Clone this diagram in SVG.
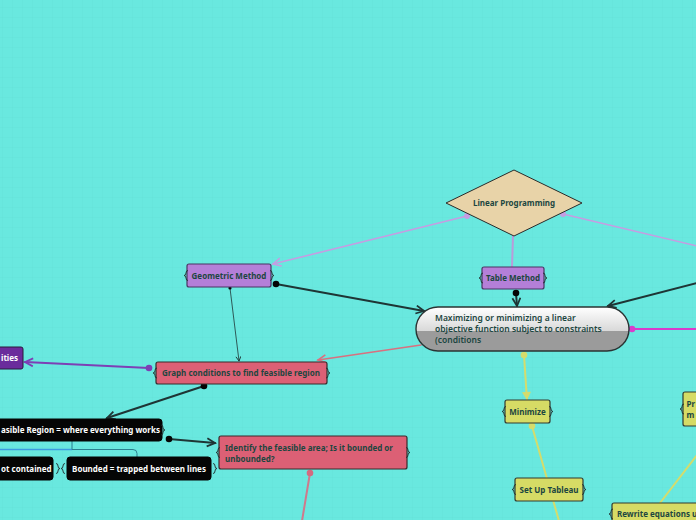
<svg xmlns="http://www.w3.org/2000/svg" xmlns:xlink="http://www.w3.org/1999/xlink" width="696" height="520" viewBox="0 0 696 520">
<style>
.t{font-family:"Noto Sans","Open Sans","DejaVu Sans",sans-serif;font-size:8px;font-weight:700;fill:#1c4640}
.tw{font-family:"Noto Sans","Open Sans","DejaVu Sans",sans-serif;font-size:8px;font-weight:700;fill:#ffffff}
.tc{font-family:"Noto Sans","Open Sans","DejaVu Sans",sans-serif;font-size:8.5px;font-weight:600;fill:#1c4640}
.purple{fill:#b47fd8;stroke:#4b3563;stroke-width:1.2}
.pink{fill:#dc6075;stroke:#3a2a2c;stroke-width:1.2}
.yellow{fill:#d6db65;stroke:#333a30;stroke-width:1.2}
.black{fill:#050505;stroke:#050505;stroke-width:1}
.brace{fill:none;stroke:#1e2a2a;stroke-width:0.9}
.c{fill:none;stroke-linecap:round}
</style>
<defs>
<pattern id="grid" width="10" height="10" patternUnits="userSpaceOnUse" x="2" y="7">
<path d="M0,0 H10 M0,0 V10" fill="none" stroke="#60dcd4" stroke-width="0.6"/>
</pattern>
<linearGradient id="cg" x1="0" y1="0" x2="0" y2="1">
<stop offset="0" stop-color="#ffffff"/>
<stop offset="0.54" stop-color="#d9d9d9"/>
<stop offset="0.54" stop-color="#9b9b9b"/>
<stop offset="1" stop-color="#9b9b9b"/>
</linearGradient>
<path id="br" d="M1,-5 Q-1,-5 -1,-2.5 Q-1,0 -3,0 Q-1,0 -1,2.5 Q-1,5 1,5"/>
<marker id="aDark" markerUnits="userSpaceOnUse" markerWidth="12" markerHeight="12" refX="9" refY="5" orient="auto"><path d="M1,1 L9,5 L1,9" fill="none" stroke="#1e3535" stroke-width="1.8"/></marker>
<marker id="aThin" markerUnits="userSpaceOnUse" markerWidth="8" markerHeight="8" refX="5" refY="3" orient="auto"><path d="M0.5,0.5 L5,3 L0.5,5.5" fill="none" stroke="#1e3535" stroke-width="0.9"/></marker>
<marker id="aLav" markerUnits="userSpaceOnUse" markerWidth="12" markerHeight="12" refX="9" refY="5" orient="auto"><path d="M1,1 L9,5 L1,9" fill="none" stroke="#c59de2" stroke-width="1.6"/></marker>
<marker id="aPink" markerUnits="userSpaceOnUse" markerWidth="12" markerHeight="12" refX="9" refY="5" orient="auto"><path d="M1,1 L9,5 L1,9" fill="none" stroke="#d9707f" stroke-width="1.6"/></marker>
<marker id="aPur" markerUnits="userSpaceOnUse" markerWidth="12" markerHeight="12" refX="9" refY="5" orient="auto"><path d="M1,1 L9,5 L1,9" fill="none" stroke="#7d3fb5" stroke-width="1.8"/></marker>
<marker id="aYel" markerUnits="userSpaceOnUse" markerWidth="12" markerHeight="12" refX="9" refY="5" orient="auto"><path d="M1,0.5 L9,5 L1,9.5 Z" fill="#d4dc6c"/></marker>
<marker id="dDark" markerUnits="userSpaceOnUse" markerWidth="8" markerHeight="8" refX="4" refY="4"><circle cx="4" cy="4" r="3.3" fill="#050505"/></marker>
<marker id="dSmall" markerUnits="userSpaceOnUse" markerWidth="4" markerHeight="4" refX="2" refY="2"><circle cx="2" cy="2" r="1.6" fill="#050505"/></marker>
<marker id="dLav" markerUnits="userSpaceOnUse" markerWidth="8" markerHeight="8" refX="4" refY="4"><circle cx="4" cy="4" r="3" fill="#c59de2"/></marker>
<marker id="dMag" markerUnits="userSpaceOnUse" markerWidth="8" markerHeight="8" refX="4" refY="4"><circle cx="4" cy="4" r="3.3" fill="#d83ccc"/></marker>
<marker id="dYel" markerUnits="userSpaceOnUse" markerWidth="8" markerHeight="8" refX="4" refY="4"><circle cx="4" cy="4" r="3.3" fill="#d4dc6c"/></marker>
<marker id="dPur" markerUnits="userSpaceOnUse" markerWidth="8" markerHeight="8" refX="4" refY="4"><circle cx="4" cy="4" r="3.3" fill="#7d3fb5"/></marker>
<marker id="dPink" markerUnits="userSpaceOnUse" markerWidth="8" markerHeight="8" refX="4" refY="4"><circle cx="4" cy="4" r="3.3" fill="#d46a80"/></marker>
</defs>
<rect width="696" height="520" fill="#69e8df"/>
<rect width="696" height="520" fill="url(#grid)"/>

<g id="connectors">
<path class="c" d="M513,236 L512,267" stroke="#b99bd9" stroke-width="2"/>
<path class="c" d="M467,216 L273,264" stroke="#c59de2" stroke-width="1.6" marker-start="url(#dLav)" marker-end="url(#aLav)"/>
<path class="c" d="M563,214 L697,246" stroke="#c59de2" stroke-width="1.6" marker-start="url(#dLav)"/>
<path class="c" d="M516,293 L517,306" stroke="#1e3535" stroke-width="2" marker-start="url(#dDark)" marker-end="url(#aDark)"/>
<path class="c" d="M276,284 L424,311" stroke="#1e3535" stroke-width="2" marker-start="url(#dDark)" marker-end="url(#aDark)"/>
<path class="c" d="M230,288 L239,361" stroke="#1e3535" stroke-width="0.8" marker-start="url(#dSmall)" marker-end="url(#aThin)"/>
<path class="c" d="M421,345 L318,360" stroke="#d9707f" stroke-width="1.6" marker-end="url(#aPink)"/>
<path class="c" d="M697,283 L608,306" stroke="#1e3535" stroke-width="2" marker-end="url(#aDark)"/>
<path class="c" d="M632,329 L697,329" stroke="#d83ccc" stroke-width="2" marker-start="url(#dMag)"/>
<path class="c" d="M524,355 L527,400" stroke="#d4dc6c" stroke-width="2" marker-start="url(#dYel)" marker-end="url(#aYel)"/>
<path class="c" d="M532,426 L559,521" stroke="#d4dc6c" stroke-width="2" marker-start="url(#dYel)"/>
<path class="c" d="M697,455 L660,503" stroke="#d4dc6c" stroke-width="2"/>
<path class="c" d="M149,368 L25,362" stroke="#7d3fb5" stroke-width="2" marker-start="url(#dPur)" marker-end="url(#aPur)"/>
<path class="c" d="M204,386 L107,418" stroke="#1e3535" stroke-width="2" marker-start="url(#dDark)" marker-end="url(#aDark)"/>
<path class="c" d="M169,439 L215,443" stroke="#1e3535" stroke-width="2" marker-start="url(#dDark)" marker-end="url(#aDark)"/>
<path class="c" d="M310,473 L302,521" stroke="#cf7a8c" stroke-width="2" marker-start="url(#dPink)"/>
<path d="M-1,449.5 H72" fill="none" stroke="#3d9be0" stroke-width="1.4"/>
<path d="M72,441 V449.5 H133 Q137,449.5 137,453.5 V457" fill="none" stroke="#2b7f8f" stroke-width="1"/>
</g>

<g id="node-linear-programming">
<path d="M514,170 L582,203 L514,236 L446,203 Z" fill="#e8d3a8" stroke="#2a2a2a" stroke-width="1"/>
<text class="t" x="514" y="206" text-anchor="middle">Linear Programming</text>
</g>

<g id="node-table-method">
<rect class="purple" x="482" y="267" width="62" height="22" rx="2"/>
<use href="#br" class="brace" x="482" y="278"/>
<use href="#br" class="brace" transform="translate(544,278) scale(-1,1)"/>
<text class="t" x="513" y="281" text-anchor="middle">Table Method</text>
</g>

<g id="node-geometric-method">
<rect class="purple" x="187" y="264" width="84" height="23" rx="2"/>
<use href="#br" class="brace" x="187" y="275.5"/>
<use href="#br" class="brace" transform="translate(271,275.5) scale(-1,1)"/>
<text class="t" x="229" y="278.5" text-anchor="middle">Geometric Method</text>
</g>

<g id="node-central">
<rect x="416" y="307" width="213" height="44" rx="22" fill="url(#cg)" stroke="#2a3333" stroke-width="1.4"/>
<text class="tc" x="435" y="321">Maximizing or minimizing a linear</text>
<text class="tc" x="435" y="332">objective function subject to constraints</text>
<text class="tc" x="435" y="343">(conditions</text>
</g>

<g id="node-graph-conditions">
<rect class="pink" x="156" y="362" width="171" height="22" rx="2"/>
<use href="#br" class="brace" x="156" y="373"/>
<use href="#br" class="brace" transform="translate(327,373) scale(-1,1)"/>
<text class="t" x="241" y="376" text-anchor="middle">Graph conditions to find feasible region</text>
</g>

<g id="node-ities">
<rect x="-5" y="347" width="28" height="22" rx="2" fill="#6a2c9c" stroke="#2a1a3a" stroke-width="1"/>
<text class="tw" x="1" y="361">ities</text>
</g>

<g id="node-feasible-region">
<rect class="black" x="-5" y="419" width="167" height="22" rx="3"/>
<use href="#br" class="brace" transform="translate(162,430) scale(-1,1)"/>
<text class="tw" x="1" y="433">asible Region = where everything works</text>
</g>

<g id="node-identify">
<rect class="pink" x="219" y="436" width="188" height="33" rx="2"/>
<use href="#br" class="brace" x="219" y="452.5"/>
<use href="#br" class="brace" transform="translate(407,452.5) scale(-1,1)"/>
<text class="t" x="225" y="450.5">Identify the feasible area; Is it bounded or</text>
<text class="t" x="225" y="461.5">unbounded?</text>
</g>

<g id="node-not-contained">
<rect class="black" x="-5" y="457" width="58" height="23" rx="3"/>
<use href="#br" class="brace" transform="translate(57,468.5) scale(-1,1)"/>
<text class="tw" x="1" y="472">ot contained</text>
</g>

<g id="node-bounded">
<rect class="black" x="67" y="457" width="144" height="23" rx="3"/>
<use href="#br" class="brace" x="64" y="468.5"/>
<use href="#br" class="brace" transform="translate(214,468.5) scale(-1,1)"/>
<text class="tw" x="139" y="472" text-anchor="middle">Bounded = trapped between lines</text>
</g>

<g id="node-minimize">
<rect class="yellow" x="505" y="400" width="45" height="23" rx="2"/>
<use href="#br" class="brace" x="505" y="411.5"/>
<use href="#br" class="brace" transform="translate(550,411.5) scale(-1,1)"/>
<text class="t" x="527.5" y="415" text-anchor="middle">Minimize</text>
</g>

<g id="node-set-up-tableau">
<rect class="yellow" x="515" y="478" width="68" height="23" rx="2"/>
<use href="#br" class="brace" x="515" y="489.5"/>
<use href="#br" class="brace" transform="translate(583,489.5) scale(-1,1)"/>
<text class="t" x="549" y="493" text-anchor="middle">Set Up Tableau</text>
</g>

<g id="node-pr">
<rect class="yellow" x="683" y="392" width="20" height="34" rx="2"/>
<use href="#br" class="brace" x="683" y="409"/>
<text class="t" x="686.5" y="407">Pr</text>
<text class="t" x="686.5" y="418">m</text>
</g>

<g id="node-rewrite">
<rect class="yellow" x="612" y="503" width="90" height="25" rx="2"/>
<use href="#br" class="brace" x="612" y="514"/>
<text class="t" x="617" y="517">Rewrite equations u</text>
</g>
</svg>
